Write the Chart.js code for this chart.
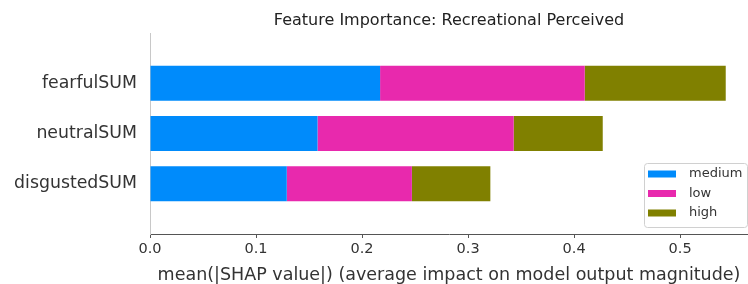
<!DOCTYPE html>
<html>
<head>
<meta charset="utf-8">
<script src="https://cdn.jsdelivr.net/npm/chart.js@4/dist/chart.umd.min.js"></script>
<style>
  html, body { margin: 0; padding: 0; background: #fff; }
  #wrap { width: 748px; height: 284px; position: relative; }
</style>
</head>
<body>
<div id="wrap"><canvas id="c" width="748" height="284"></canvas></div>
<script>
const chartTitle = 'Feature Importance: Recreational Perceived';
const xAxisTitle = 'mean(|SHAP value|) (average impact on model output magnitude)';
const categories = ['fearfulSUM', 'neutralSUM', 'disgustedSUM'];
const seriesNames = ['medium', 'low', 'high'];
const mediumValues = [0.217, 0.158, 0.129];
const lowValues = [0.193, 0.185, 0.118];
const highValues = [0.133, 0.084, 0.074];
const seriesColors = ['#008bfb', '#e829ad', '#808000'];
const seriesValues = [mediumValues, lowValues, highValues];

const FONT = 'DejaVu Sans';

const datasets = seriesNames.map((name, s) => ({
  label: name,
  data: categories.map((c, i) => ({ x: seriesValues[s][i], y: i })),
  backgroundColor: seriesColors[s],
  borderWidth: 0,
  stack: 'all',
  barPercentage: 0.7,
  categoryPercentage: 1.0
}));

const boxLegend = {
  id: 'boxLegend',
  afterDraw(chart) {
    const ctx = chart.ctx;
    const x0 = 644, y0 = 163, w = 103, h = 64;
    ctx.save();
    ctx.fillStyle = 'rgba(255,255,255,0.85)';
    ctx.strokeStyle = '#d0d0d0';
    ctx.lineWidth = 1;
    const r = 3;
    ctx.beginPath();
    ctx.moveTo(x0 + r + 0.5, y0 + 0.5);
    ctx.arcTo(x0 + w + 0.5, y0 + 0.5, x0 + w + 0.5, y0 + h + 0.5, r);
    ctx.arcTo(x0 + w + 0.5, y0 + h + 0.5, x0 + 0.5, y0 + h + 0.5, r);
    ctx.arcTo(x0 + 0.5, y0 + h + 0.5, x0 + 0.5, y0 + 0.5, r);
    ctx.arcTo(x0 + 0.5, y0 + 0.5, x0 + w + 0.5, y0 + 0.5, r);
    ctx.closePath();
    ctx.fill();
    ctx.stroke();
    ctx.font = '13px "' + FONT + '"';
    ctx.textBaseline = 'middle';
    ctx.textAlign = 'left';
    chart.data.datasets.forEach((ds, i) => {
      const cy = y0 + 11 + i * 19.5;
      ctx.fillStyle = ds.backgroundColor;
      ctx.fillRect(x0 + 4, cy - 3.5, 28, 7);
      ctx.fillStyle = '#333';
      ctx.fillText(ds.label, x0 + 45, cy);
    });
    ctx.restore();
  }
};

new Chart(document.getElementById('c'), {
  type: 'bar',
  data: { datasets },
  plugins: [boxLegend],
  options: {
    indexAxis: 'y',
    responsive: false,
    animation: false,
    layout: { padding: 0 },
    plugins: {
      legend: { display: false },
      tooltip: { enabled: false },
      title: {
        display: true,
        text: chartTitle,
        fullSize: false,
        color: '#222',
        font: { family: FONT, size: 16, weight: 'normal', lineHeight: 1.2 },
        padding: { top: 11.4, bottom: 2.4 }
      }
    },
    scales: {
      x: {
        type: 'linear',
        stacked: true,
        min: 0,
        max: 0.564,
        afterFit(scale) { scale.height = 50; },
        ticks: {
          stepSize: 0.1,
          includeBounds: false,
          padding: 3,
          color: '#333',
          font: { family: FONT, size: 14.5 },
          callback: (v) => Number(v).toFixed(1)
        },
        grid: {
          drawOnChartArea: false,
          drawTicks: true,
          tickLength: 4,
          color: '#555',
          tickColor: '#555'
        },
        border: { display: true, color: '#555', width: 1 },
        title: {
          display: true,
          text: xAxisTitle,
          color: '#333',
          font: { family: FONT, size: 17.5, lineHeight: 1.0 },
          padding: { top: 0, bottom: 0 }
        }
      },
      y: {
        type: 'linear',
        reverse: true,
        offset: false,
        min: -1,
        max: 3,
        afterFit(scale) { scale.width = 150; },
        ticks: {
          stepSize: 1,
          autoSkip: false,
          padding: 13,
          color: '#333',
          font: { family: FONT, size: 17.33 },
          callback: (v) => (Number.isInteger(v) && categories[v] !== undefined) ? categories[v] : ''
        },
        grid: { display: false, drawTicks: false },
        border: { display: true, color: '#c8c8c8', width: 1 }
      }
    }
  }
});
</script>
</body>
</html>
